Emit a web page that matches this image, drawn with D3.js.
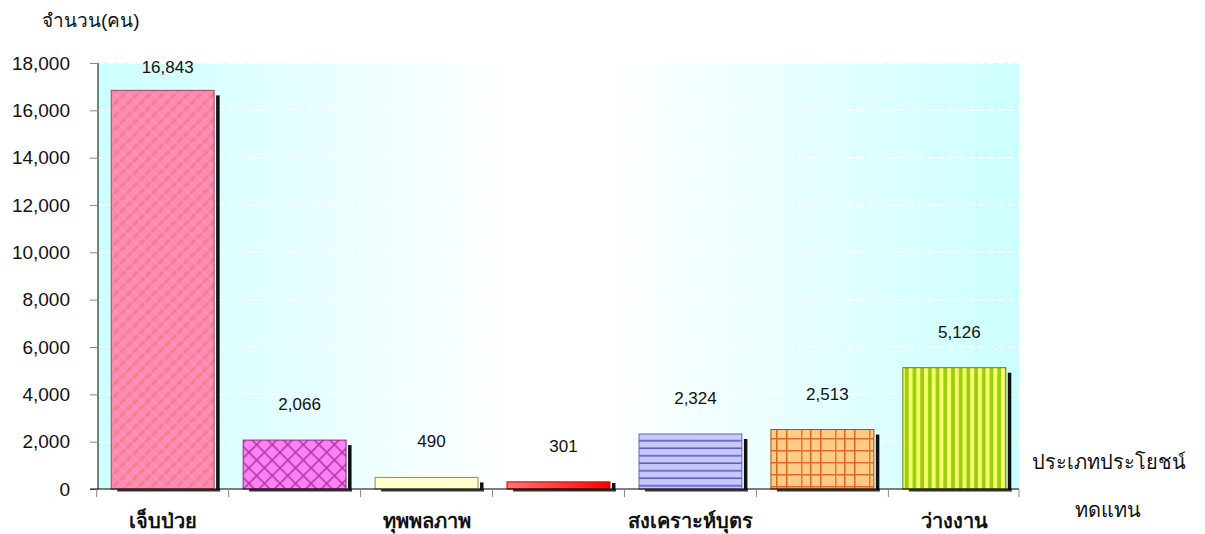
<!DOCTYPE html>
<html>
<head>
<meta charset="utf-8">
<script src="https://cdn.jsdelivr.net/npm/d3@7"></script>
<style>
  body { margin: 0; background: #fff; }
  svg text { font-family: "Liberation Sans", Arial, sans-serif; }
</style>
</head>
<body>
<svg id="chart" width="1205" height="534"></svg>
<script>
// data
var categories = ["เจ็บป่วย", "คลอดบุตร", "ทุพพลภาพ", "ตาย", "สงเคราะห์บุตร", "ชราภาพ", "ว่างงาน"];
var values = [16843, 2066, 490, 301, 2324, 2513, 5126];
var yTicks = [0, 2000, 4000, 6000, 8000, 10000, 12000, 14000, 16000, 18000];
var yTitle = "จำนวน(คน)";
var xTitle = ["ประเภทประโยชน์", "ทดแทน"];

var svg = d3.select("#chart");
var pLeft = 98, pRight = 1019, pTop = 63, pBottom = 489;
var thaiFont = "'Noto Sans', 'DejaVu Sans', sans-serif";

var x = d3.scaleBand().domain(categories).range([pLeft, pRight]).paddingInner(0.22).paddingOuter(0.1);
var y = d3.scaleLinear().domain([0, 18000]).range([pBottom, pTop]);

var defs = svg.append("defs");

// plot background: cyan -> white -> cyan
var bg = defs.append("linearGradient").attr("id", "bg");
bg.append("stop").attr("offset", "0%").attr("stop-color", "#ccffff");
bg.append("stop").attr("offset", "45%").attr("stop-color", "#ffffff");
bg.append("stop").attr("offset", "55%").attr("stop-color", "#ffffff");
bg.append("stop").attr("offset", "100%").attr("stop-color", "#ccffff");

// fill patterns for each bar
var p1 = defs.append("pattern").attr("id", "f0").attr("patternUnits", "userSpaceOnUse")
  .attr("width", 9).attr("height", 9).attr("patternTransform", "rotate(-45)");
p1.append("rect").attr("width", 9).attr("height", 9).attr("fill", "#fc8cab");
p1.append("rect").attr("width", 9).attr("height", 3).attr("fill", "#f4788c").attr("opacity", 0.8);
p1.append("rect").attr("x", 4).attr("width", 3).attr("height", 9).attr("fill", "#ff90d0").attr("opacity", 0.5);

var p2 = defs.append("pattern").attr("id", "f1").attr("patternUnits", "userSpaceOnUse")
  .attr("width", 11).attr("height", 11).attr("patternTransform", "rotate(45)");
p2.append("rect").attr("width", 11).attr("height", 11).attr("fill", "#ff80f4");
p2.append("rect").attr("width", 11).attr("height", 1.6).attr("fill", "#b03aa8");
p2.append("rect").attr("width", 1.6).attr("height", 11).attr("fill", "#b03aa8");

var g4 = defs.append("linearGradient").attr("id", "f3");
g4.append("stop").attr("offset", "0%").attr("stop-color", "#ff7a7a");
g4.append("stop").attr("offset", "100%").attr("stop-color", "#ff0000");

var p5 = defs.append("pattern").attr("id", "f4").attr("patternUnits", "userSpaceOnUse")
  .attr("width", 10).attr("height", 7.5);
p5.append("rect").attr("width", 10).attr("height", 7.5).attr("fill", "#c8c8ff");
p5.append("rect").attr("y", 5).attr("width", 10).attr("height", 1.6).attr("fill", "#5a5ab8");

var p6 = defs.append("pattern").attr("id", "f5").attr("patternUnits", "userSpaceOnUse")
  .attr("width", 34).attr("height", 12);
p6.append("rect").attr("width", 34).attr("height", 12).attr("fill", "#ffcc88");
p6.append("rect").attr("y", 6).attr("width", 34).attr("height", 1.5).attr("fill", "#e06a20");
p6.append("rect").attr("x", 4).attr("width", 1.5).attr("height", 12).attr("fill", "#d8661c");
p6.append("rect").attr("x", 19).attr("width", 1.5).attr("height", 12).attr("fill", "#e07a30");
p6.append("rect").attr("x", 28).attr("width", 1.5).attr("height", 12).attr("fill", "#d8661c");

var p7 = defs.append("pattern").attr("id", "f6").attr("patternUnits", "userSpaceOnUse")
  .attr("width", 7.7).attr("height", 10);
p7.append("rect").attr("width", 7.7).attr("height", 10).attr("fill", "#f4ff6a");
p7.append("rect").attr("x", 4).attr("width", 3.7).attr("height", 10).attr("fill", "#9ccc10");

var fills = ["url(#f0)", "url(#f1)", "#ffffcc", "url(#f3)", "url(#f4)", "url(#f5)", "url(#f6)"];
var strokes = ["#9a4a5a", "#8a2a80", "#8a8a6a", "#c00000", "#6a6aa0", "#a05018", "#6a7a10"];

// plot area
svg.append("rect").attr("x", pLeft).attr("y", pTop)
  .attr("width", pRight - pLeft).attr("height", pBottom - pTop).attr("fill", "url(#bg)");

// gridlines (white dashed)
svg.append("g").selectAll("line").data(yTicks.filter(function(d){ return d > 0; }))
  .enter().append("line")
  .attr("x1", pLeft).attr("x2", pRight)
  .attr("y1", function(d){ return y(d); }).attr("y2", function(d){ return y(d); })
  .attr("stroke", "#fff").attr("stroke-width", 1.5).attr("stroke-dasharray", "6,4");

// bar shadows
var sh = svg.append("g");
categories.forEach(function(c, i) {
  var bx = x(c), bw = x.bandwidth(), by = y(values[i]);
  var sy = Math.min(by + 5, pBottom - 6);
  sh.append("rect").attr("x", bx + bw + 2).attr("y", sy)
    .attr("width", 3.5).attr("height", pBottom + 2 - sy).attr("fill", "#111");
  sh.append("rect").attr("x", bx + 6).attr("y", pBottom).attr("width", bw).attr("height", 2.5).attr("fill", "#333");
});

// bars
svg.append("g").selectAll("rect").data(values).enter().append("rect")
  .attr("x", function(d, i){ return x(categories[i]); })
  .attr("y", function(d){ return y(d); })
  .attr("width", x.bandwidth())
  .attr("height", function(d){ return pBottom - y(d); })
  .attr("fill", function(d, i){ return fills[i]; })
  .attr("stroke", function(d, i){ return strokes[i]; })
  .attr("stroke-width", 1);

// value labels
svg.append("g").selectAll("text").data(values).enter().append("text")
  .attr("x", function(d, i){ return x(categories[i]) + x.bandwidth() / 2 + 5; })
  .attr("y", function(d){ return Math.max(y(d) - 30, pTop + 10); })
  .attr("text-anchor", "middle")
  .attr("font-size", 17)
  .attr("fill", "#111")
  .text(d3.format(","));

// y axis
var ya = svg.append("g").attr("transform", "translate(" + pLeft + ",0)")
  .call(d3.axisLeft(y).tickValues(yTicks).tickSize(8).tickPadding(20).tickFormat(d3.format(",")));
ya.select(".domain").attr("stroke", "#000").attr("d", "M0," + pTop + "V" + pBottom);
ya.selectAll(".tick line").attr("stroke", "#888");
ya.selectAll("text").attr("font-size", 19).attr("fill", "#111")
  .attr("font-family", "'Liberation Sans', Arial, sans-serif");

// x axis baseline and boundary ticks
svg.append("line").attr("x1", pLeft - 8).attr("x2", pRight).attr("y1", pBottom).attr("y2", pBottom)
  .attr("stroke", "#000");
var bounds = categories.map(function(c){ return x(c) - x.step() * x.paddingInner() / 2; });
bounds.push(pRight);
svg.append("g").selectAll("line").data(bounds).enter().append("line")
  .attr("x1", function(d){ return d; }).attr("x2", function(d){ return d; })
  .attr("y1", pBottom).attr("y2", pBottom + 8).attr("stroke", "#888");

// x labels (every other category shown)
var xa = svg.append("g").attr("transform", "translate(0," + (pBottom + 8) + ")")
  .call(d3.axisBottom(x).tickSize(0).tickPadding(17)
    .tickFormat(function(d, i){ return i % 2 === 0 ? d : ""; }));
xa.select(".domain").remove();
xa.selectAll("text").attr("font-size", 20).attr("font-weight", "bold").attr("fill", "#111")
  .attr("font-family", thaiFont);

// titles
svg.append("text").attr("x", 42).attr("y", 27).attr("font-size", 19).attr("fill", "#111")
  .attr("font-family", thaiFont).text(yTitle);
svg.append("text").attr("x", 1109).attr("y", 469).attr("text-anchor", "middle")
  .attr("font-size", 20).attr("fill", "#111")
  .attr("font-family", thaiFont).text(xTitle[0]);
svg.append("text").attr("x", 1108).attr("y", 517).attr("text-anchor", "middle")
  .attr("font-size", 20).attr("fill", "#111")
  .attr("font-family", thaiFont).text(xTitle[1]);
</script>
</body>
</html>
